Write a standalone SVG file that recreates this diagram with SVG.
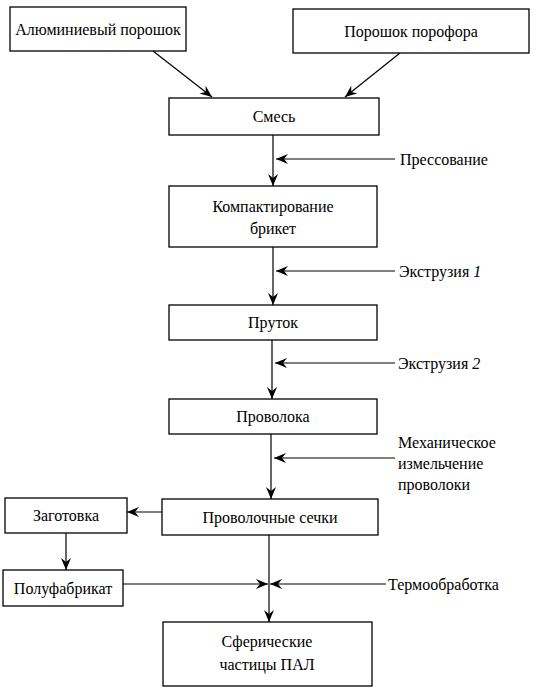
<svg xmlns="http://www.w3.org/2000/svg" width="538" height="700" viewBox="0 0 538 700" font-family="Liberation Serif, DejaVu Serif, serif" font-size="16">
<style>
rect{fill:#fff;stroke:#000;stroke-width:1.3}
.c{text-anchor:middle}
.conn line{stroke:#000;stroke-width:1.2;fill:none}
.a{marker-end:url(#ah)}
</style>
<defs>
<marker id="ah" viewBox="0 0 12 10" refX="12" refY="5" markerWidth="12" markerHeight="10" markerUnits="userSpaceOnUse" orient="auto">
<path d="M0,0 L12,5 L0,10 L4,5 z" fill="#000"/>
</marker>
</defs>
<rect x="0" y="0" width="538" height="700" style="fill:#fff;stroke:none"/>
<g id="n1"><rect x="10" y="7" width="176" height="44"/><text class="c" x="98" y="35">Алюминиевый порошок</text></g>
<g id="n2"><rect x="293" y="9" width="236" height="44"/><text class="c" x="411" y="37">Порошок порофора</text></g>
<g id="n3"><rect x="169" y="98" width="210" height="37"/><text class="c" x="274" y="122">Смесь</text></g>
<g id="n4"><rect x="169" y="186" width="208" height="61"/><text class="c" x="273" y="212">Компактирование</text><text class="c" x="273" y="234">брикет</text></g>
<g id="n5"><rect x="169" y="305" width="208" height="35"/><text class="c" x="273" y="328">Пруток</text></g>
<g id="n6"><rect x="169" y="399" width="208" height="35"/><text class="c" x="273" y="422">Проволока</text></g>
<g id="n7"><rect x="162" y="499" width="216" height="36"/><text class="c" x="270" y="523">Проволочные сечки</text></g>
<g id="n8"><rect x="5" y="498" width="122" height="35"/><text class="c" x="66" y="521">Заготовка</text></g>
<g id="n9"><rect x="3" y="570" width="120" height="36"/><text class="c" x="63" y="594">Полуфабрикат</text></g>
<g id="n10"><rect x="163" y="622" width="209" height="64"/><text class="c" x="267" y="647">Сферические</text><text class="c" x="267" y="670">частицы ПАЛ</text></g>
<g id="labels">
<text x="400" y="165">Прессование</text>
<text x="399" y="277">Экструзия <tspan font-style="italic">1</tspan></text>
<text x="398" y="369">Экструзия <tspan font-style="italic">2</tspan></text>
<text x="398" y="448">Механическое</text>
<text x="398" y="469">измельчение</text>
<text x="398" y="490">проволоки</text>
<text x="388" y="590">Термообработка</text>
</g>
<g class="conn" id="connectors">
<line class="a" x1="153" y1="51" x2="212" y2="97"/>
<line class="a" x1="400" y1="53" x2="345" y2="97"/>
<line class="a" x1="273" y1="135" x2="273" y2="186"/>
<line class="a" x1="395" y1="159" x2="276" y2="159"/>
<line class="a" x1="273" y1="247" x2="273" y2="305"/>
<line class="a" x1="395" y1="271" x2="276" y2="271"/>
<line class="a" x1="272" y1="340" x2="272" y2="399"/>
<line class="a" x1="395" y1="363" x2="275" y2="363"/>
<line class="a" x1="271" y1="434" x2="271" y2="499"/>
<line class="a" x1="395" y1="458" x2="274" y2="458"/>
<line class="a" x1="162" y1="512" x2="127" y2="512"/>
<line class="a" x1="66" y1="533" x2="66" y2="570"/>
<line class="a" x1="123" y1="584" x2="268" y2="584"/>
<line class="a" x1="386" y1="584" x2="270" y2="584"/>
<line class="a" x1="269" y1="535" x2="269" y2="622"/>
</g>
</svg>
